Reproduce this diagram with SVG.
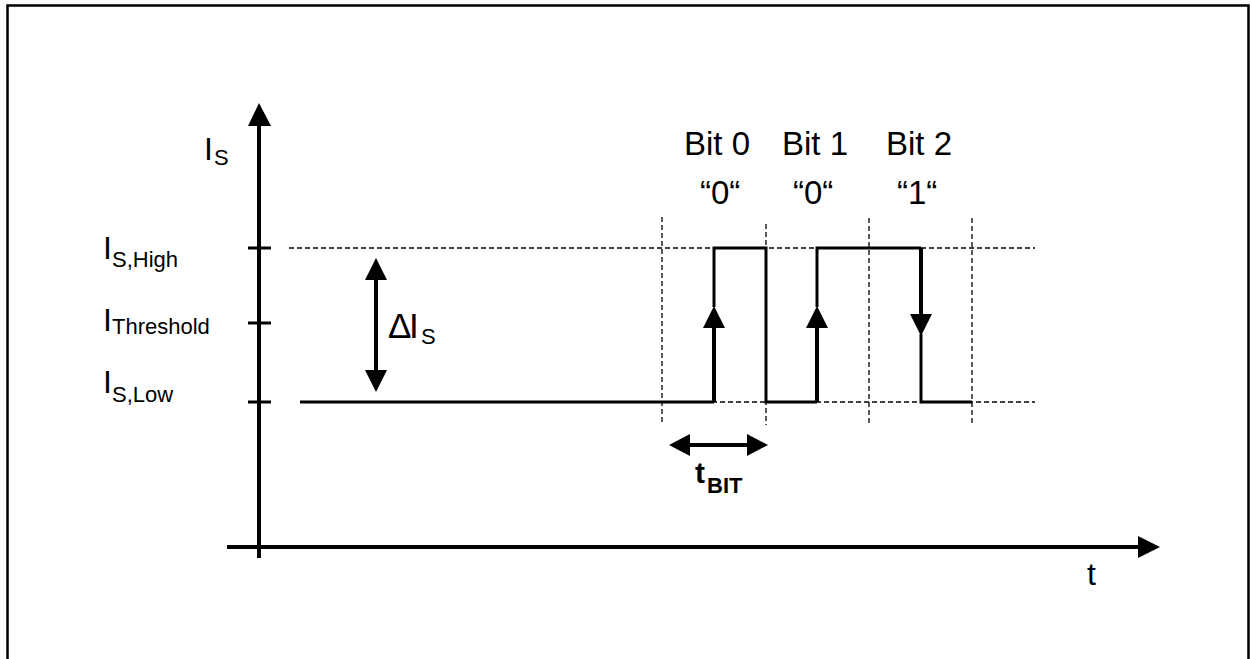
<svg xmlns="http://www.w3.org/2000/svg" width="1251" height="659" viewBox="0 0 1251 659">
<style>
text{font-family:"Liberation Sans",Arial,sans-serif;fill:#000}
.ax{stroke:#000;stroke-width:4;fill:none}
.sig{stroke:#000;stroke-width:3;fill:none}
.thick{stroke:#000;stroke-width:4;fill:none}
.dash{stroke:#000;stroke-width:1.3;stroke-dasharray:5 3;fill:none}
.head{fill:#000;stroke:none}
.bit{font-size:33px}
</style>
<rect x="0" y="0" width="1251" height="659" fill="#fff"/>
<rect x="7.5" y="5.5" width="1241" height="700" fill="none" stroke="#000" stroke-width="2.5"/>
<g id="connectors">
  <line class="dash" x1="289" y1="248" x2="1035" y2="248"/>
  <line class="dash" x1="640" y1="402" x2="1035" y2="402"/>
  <line class="dash" x1="662" y1="217" x2="662" y2="425"/>
  <line class="dash" x1="766" y1="224" x2="766" y2="425"/>
  <line class="dash" x1="869" y1="218" x2="869" y2="425"/>
  <line class="dash" x1="972" y1="218" x2="972" y2="425"/>
  <line class="ax" x1="259" y1="124" x2="259" y2="558"/>
  <polygon class="head" points="259,103 248,126 271,126"/>
  <line class="ax" x1="227" y1="547" x2="1140" y2="547"/>
  <polygon class="head" points="1160,547 1138,536 1138,558"/>
  <line class="sig" x1="248" y1="248" x2="271" y2="248"/>
  <line class="sig" x1="248" y1="323" x2="271" y2="323"/>
  <line class="sig" x1="248" y1="402" x2="271" y2="402"/>
  <line class="thick" x1="376" y1="276" x2="376" y2="374"/>
  <polygon class="head" points="376,258 365,280 387,280"/>
  <polygon class="head" points="376,392 365,370 387,370"/>
  <polyline class="sig" points="300,402 714,402"/>
  <polyline class="sig" points="714,307 714,248 766,248 766,402 817,402"/>
  <line class="thick" x1="714" y1="402" x2="714" y2="325"/>
  <polygon class="head" points="714,306 703,328 725,328"/>
  <polyline class="sig" points="817,307 817,248 921,248"/>
  <line class="thick" x1="817" y1="402" x2="817" y2="325"/>
  <polygon class="head" points="817,306 806,328 828,328"/>
  <line class="thick" x1="921" y1="248" x2="921" y2="316"/>
  <polygon class="head" points="921,336 910,314 932,314"/>
  <polyline class="sig" points="921,334 921,402 972,402"/>
  <line class="thick" x1="685" y1="445" x2="752" y2="445"/>
  <polygon class="head" points="669,445 690,434 690,456"/>
  <polygon class="head" points="768,445 747,434 747,456"/>
</g>
<g id="label-Is"><text x="204" y="160" font-size="32">I</text><text x="214" y="165" font-size="22">S</text></g>
<g id="label-high"><text x="103" y="259" font-size="32">I</text><text x="112" y="267" font-size="22">S,High</text></g>
<g id="label-threshold"><text x="103" y="331" font-size="32">I</text><text x="112" y="334" font-size="22">Threshold</text></g>
<g id="label-low"><text x="103" y="393" font-size="32">I</text><text x="112" y="402" font-size="22">S,Low</text></g>
<g id="label-delta"><text x="388" y="338" font-size="35">Δ</text><text x="409" y="338" font-size="35">I</text><text x="421" y="344" font-size="22">S</text></g>
<g id="bit0"><text class="bit" x="684" y="155">Bit 0</text><text class="bit" x="700" y="204">“0“</text></g>
<g id="bit1"><text class="bit" x="782" y="155">Bit 1</text><text class="bit" x="793" y="204">“0“</text></g>
<g id="bit2"><text class="bit" x="886" y="155">Bit 2</text><text class="bit" x="897" y="204">“1“</text></g>
<g id="label-t"><text x="1087" y="585" font-size="32">t</text></g>
<g id="label-tbit"><text x="695" y="483" font-size="30" font-weight="bold">t</text><text x="707" y="493" font-size="22" font-weight="bold">BIT</text></g>
</svg>
